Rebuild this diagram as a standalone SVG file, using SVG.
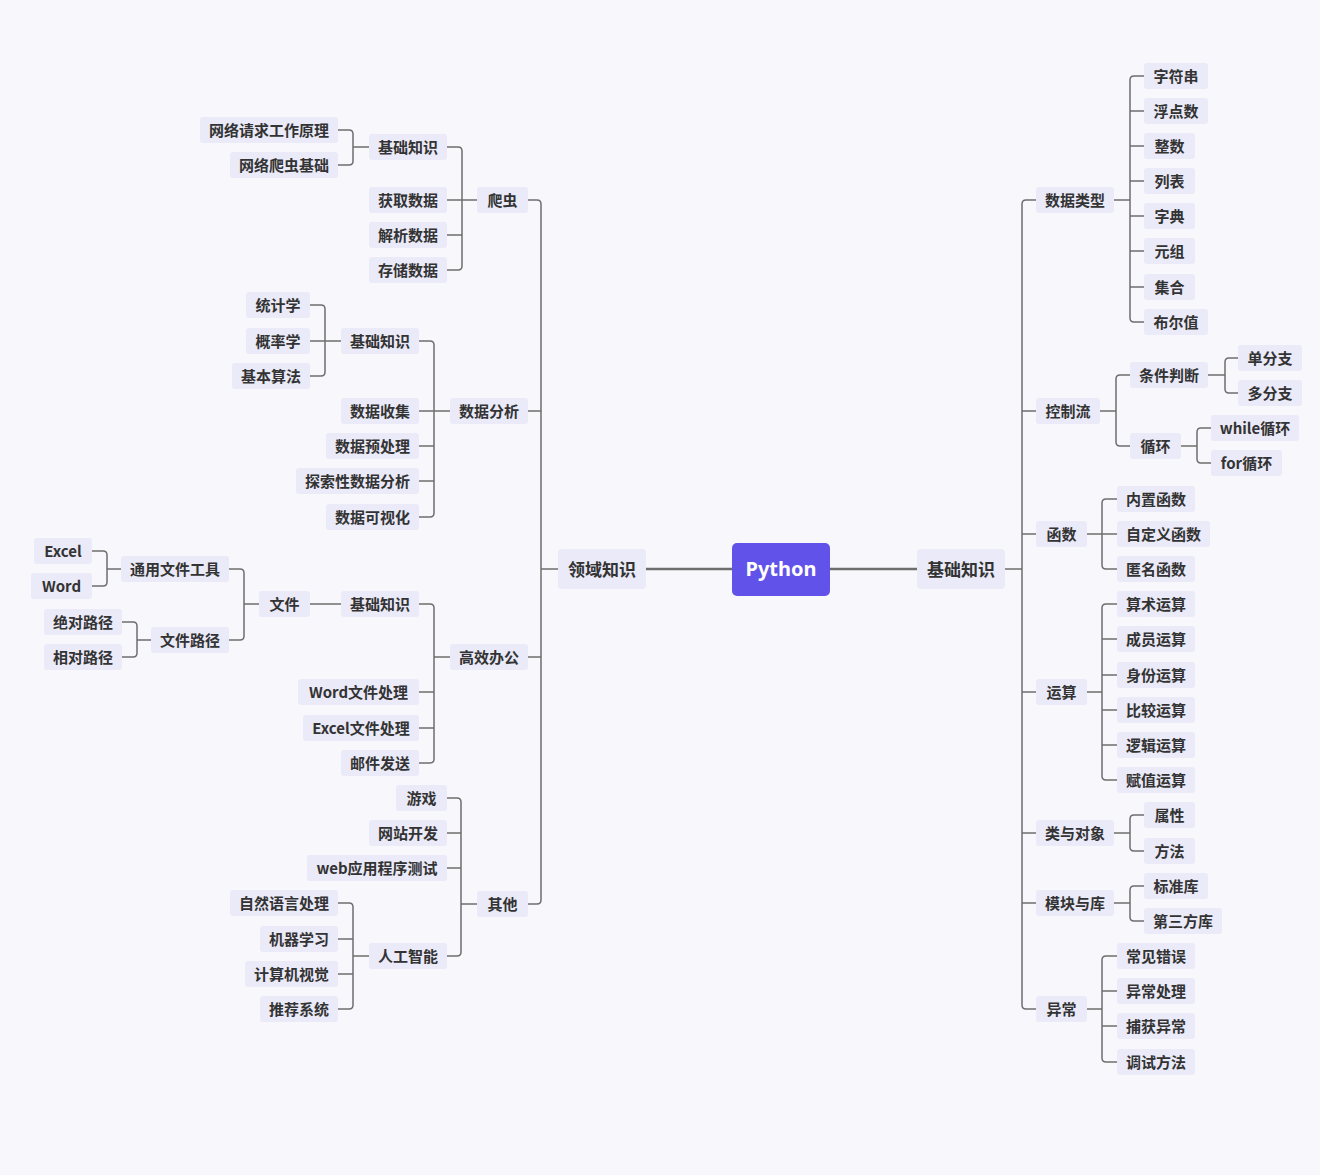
<svg xmlns="http://www.w3.org/2000/svg" width="1320" height="1175" viewBox="0 0 1320 1175">
<style>
.n rect{fill:#eaeaf8;rx:3px}
.n text{font-family:"Noto Sans CJK SC","Noto Sans",sans-serif;font-size:15px;font-weight:bold;fill:#333;text-anchor:middle;transform:translateY(1px)}
.l1 rect{fill:#eaeaf8;rx:4px}
.l1 text{font-family:"Noto Sans CJK SC","Noto Sans",sans-serif;font-size:17px;font-weight:bold;fill:#333;text-anchor:middle;transform:translateY(1px)}
.root rect{fill:#6153e9;rx:5px}
.root text{font-family:"Noto Sans","Noto Sans CJK SC",sans-serif;font-size:20px;font-weight:bold;fill:#fff;text-anchor:middle}
#connectors path{fill:none;stroke:#6e6e6e;stroke-width:1.5}
#connectors path.main{stroke-width:2.5}
</style>
<rect width="1320" height="1175" fill="#f8f8fc"/>
<g id="connectors">
<path class="main" d="M646,569 H732"/>
<path class="main" d="M830,569 H917"/>
<path d="M1005,569 H1022"/>
<path d="M1036,200 H1026 Q1022,200 1022,204 V1005 Q1022,1009 1026,1009 H1036"/>
<path d="M1022,411 H1036 M1022,534 H1036 M1022,692 H1036 M1022,833 H1036 M1022,903 H1036"/>
<path d="M1114,200 H1130"/>
<path d="M1144,76 H1134 Q1130,76 1130,80 V318 Q1130,322 1134,322 H1144"/>
<path d="M1130,111 H1144 M1130,146 H1144 M1130,181 H1144 M1130,216 H1144 M1130,251 H1144 M1130,287 H1144"/>
<path d="M1100,411 H1116"/>
<path d="M1130,375 H1120 Q1116,375 1116,379 V442 Q1116,446 1120,446 H1130"/>
<path d="M1208,375 H1225"/>
<path d="M1238,358 H1229 Q1225,358 1225,362 V389 Q1225,393 1229,393 H1238"/>
<path d="M1181,446 H1197"/>
<path d="M1211,428 H1201 Q1197,428 1197,432 V459 Q1197,463 1201,463 H1211"/>
<path d="M1087,534 H1102"/>
<path d="M1117,499 H1106 Q1102,499 1102,503 V565 Q1102,569 1106,569 H1117 M1102,534 H1117"/>
<path d="M1087,692 H1102"/>
<path d="M1117,604 H1106 Q1102,604 1102,608 V776 Q1102,780 1106,780 H1117 M1102,639 H1117 M1102,675 H1117 M1102,710 H1117 M1102,745 H1117"/>
<path d="M1114,833 H1130"/>
<path d="M1144,815 H1134 Q1130,815 1130,819 V847 Q1130,851 1134,851 H1144"/>
<path d="M1114,903 H1130"/>
<path d="M1144,886 H1134 Q1130,886 1130,890 V917 Q1130,921 1134,921 H1144"/>
<path d="M1087,1009 H1102"/>
<path d="M1117,956 H1106 Q1102,956 1102,960 V1058 Q1102,1062 1106,1062 H1117 M1102,991 H1117 M1102,1026 H1117"/>
<path d="M558,569 H541"/>
<path d="M528,200 H537 Q541,200 541,204 V900 Q541,904 537,904 H528 M541,411 H528 M541,657 H528"/>
<path d="M477,200 H462"/>
<path d="M447,147 H458 Q462,147 462,151 V266 Q462,270 458,270 H447 M462,200 H447 M462,235 H447"/>
<path d="M369,147 H353"/>
<path d="M338,130 H349 Q353,130 353,134 V161 Q353,165 349,165 H338"/>
<path d="M450,411 H434"/>
<path d="M419,341 H430 Q434,341 434,345 V513 Q434,517 430,517 H419 M434,411 H419 M434,446 H419 M434,481 H419"/>
<path d="M341,341 H325"/>
<path d="M310,305 H321 Q325,305 325,309 V372 Q325,376 321,376 H310 M325,341 H310"/>
<path d="M450,657 H434"/>
<path d="M419,604 H430 Q434,604 434,608 V759 Q434,763 430,763 H419 M434,692 H419 M434,728 H419"/>
<path d="M341,604 H310"/>
<path d="M259,604 H244"/>
<path d="M229,569 H240 Q244,569 244,573 V636 Q244,640 240,640 H229"/>
<path d="M121,569 H107"/>
<path d="M92,551 H103 Q107,551 107,555 V582 Q107,586 103,586 H92"/>
<path d="M151,640 H137"/>
<path d="M122,622 H133 Q137,622 137,626 V653 Q137,657 133,657 H122"/>
<path d="M477,904 H461"/>
<path d="M447,798 H457 Q461,798 461,802 V952 Q461,956 457,956 H447 M461,833 H447 M461,868 H447"/>
<path d="M369,956 H353"/>
<path d="M338,903 H349 Q353,903 353,907 V1005 Q353,1009 349,1009 H338 M353,939 H338 M353,974 H338"/>
</g>
<g id="root" class="root"><rect x="732" y="543" width="98" height="53"/><text x="781" y="576">Python</text></g>
<g id="basic" class="l1"><rect x="917" y="549" width="88" height="40"/><text x="961" y="575">基础知识</text></g>
<g id="domain" class="l1"><rect x="558" y="549" width="88" height="40"/><text x="602" y="575">领域知识</text></g>
<g id="r1" class="n"><rect x="1036" y="187" width="78" height="26"/><text x="1075" y="205">数据类型</text></g>
<g id="r1a" class="n"><rect x="1144" y="63" width="64" height="26"/><text x="1176" y="81">字符串</text></g>
<g id="r1b" class="n"><rect x="1144" y="98" width="64" height="26"/><text x="1176" y="116">浮点数</text></g>
<g id="r1c" class="n"><rect x="1144" y="133" width="51" height="26"/><text x="1169.5" y="151">整数</text></g>
<g id="r1d" class="n"><rect x="1144" y="168" width="51" height="26"/><text x="1169.5" y="186">列表</text></g>
<g id="r1e" class="n"><rect x="1144" y="203" width="51" height="26"/><text x="1169.5" y="221">字典</text></g>
<g id="r1f" class="n"><rect x="1144" y="238" width="51" height="26"/><text x="1169.5" y="256">元组</text></g>
<g id="r1g" class="n"><rect x="1144" y="274" width="51" height="26"/><text x="1169.5" y="292">集合</text></g>
<g id="r1h" class="n"><rect x="1144" y="309" width="64" height="26"/><text x="1176" y="327">布尔值</text></g>
<g id="r2" class="n"><rect x="1036" y="398" width="64" height="26"/><text x="1068" y="416">控制流</text></g>
<g id="r2a" class="n"><rect x="1130" y="362" width="78" height="26"/><text x="1169" y="380">条件判断</text></g>
<g id="r2a1" class="n"><rect x="1238" y="345" width="64" height="26"/><text x="1270" y="363">单分支</text></g>
<g id="r2a2" class="n"><rect x="1238" y="380" width="64" height="26"/><text x="1270" y="398">多分支</text></g>
<g id="r2b" class="n"><rect x="1130" y="433" width="51" height="26"/><text x="1155.5" y="451">循环</text></g>
<g id="r2b1" class="n"><rect x="1211" y="415" width="88" height="26"/><text x="1255" y="433">while循环</text></g>
<g id="r2b2" class="n"><rect x="1211" y="450" width="71" height="26"/><text x="1246.5" y="468">for循环</text></g>
<g id="r3" class="n"><rect x="1036" y="521" width="51" height="26"/><text x="1061.5" y="539">函数</text></g>
<g id="r3a" class="n"><rect x="1117" y="486" width="78" height="26"/><text x="1156" y="504">内置函数</text></g>
<g id="r3b" class="n"><rect x="1117" y="521" width="93" height="26"/><text x="1163.5" y="539">自定义函数</text></g>
<g id="r3c" class="n"><rect x="1117" y="556" width="78" height="26"/><text x="1156" y="574">匿名函数</text></g>
<g id="r4" class="n"><rect x="1036" y="679" width="51" height="26"/><text x="1061.5" y="697">运算</text></g>
<g id="r4a" class="n"><rect x="1117" y="591" width="78" height="26"/><text x="1156" y="609">算术运算</text></g>
<g id="r4b" class="n"><rect x="1117" y="626" width="78" height="26"/><text x="1156" y="644">成员运算</text></g>
<g id="r4c" class="n"><rect x="1117" y="662" width="78" height="26"/><text x="1156" y="680">身份运算</text></g>
<g id="r4d" class="n"><rect x="1117" y="697" width="78" height="26"/><text x="1156" y="715">比较运算</text></g>
<g id="r4e" class="n"><rect x="1117" y="732" width="78" height="26"/><text x="1156" y="750">逻辑运算</text></g>
<g id="r4f" class="n"><rect x="1117" y="767" width="78" height="26"/><text x="1156" y="785">赋值运算</text></g>
<g id="r5" class="n"><rect x="1036" y="820" width="78" height="26"/><text x="1075" y="838">类与对象</text></g>
<g id="r5a" class="n"><rect x="1144" y="802" width="51" height="26"/><text x="1169.5" y="820">属性</text></g>
<g id="r5b" class="n"><rect x="1144" y="838" width="51" height="26"/><text x="1169.5" y="856">方法</text></g>
<g id="r6" class="n"><rect x="1036" y="890" width="78" height="26"/><text x="1075" y="908">模块与库</text></g>
<g id="r6a" class="n"><rect x="1144" y="873" width="64" height="26"/><text x="1176" y="891">标准库</text></g>
<g id="r6b" class="n"><rect x="1144" y="908" width="78" height="26"/><text x="1183" y="926">第三方库</text></g>
<g id="r7" class="n"><rect x="1036" y="996" width="51" height="26"/><text x="1061.5" y="1014">异常</text></g>
<g id="r7a" class="n"><rect x="1117" y="943" width="78" height="26"/><text x="1156" y="961">常见错误</text></g>
<g id="r7b" class="n"><rect x="1117" y="978" width="78" height="26"/><text x="1156" y="996">异常处理</text></g>
<g id="r7c" class="n"><rect x="1117" y="1013" width="78" height="26"/><text x="1156" y="1031">捕获异常</text></g>
<g id="r7d" class="n"><rect x="1117" y="1049" width="78" height="26"/><text x="1156" y="1067">调试方法</text></g>
<g id="l1" class="n"><rect x="477" y="187" width="51" height="26"/><text x="502.5" y="205">爬虫</text></g>
<g id="l1a" class="n"><rect x="369" y="134" width="78" height="26"/><text x="408" y="152">基础知识</text></g>
<g id="l1a1" class="n"><rect x="200" y="117" width="138" height="26"/><text x="269" y="135">网络请求工作原理</text></g>
<g id="l1a2" class="n"><rect x="230" y="152" width="108" height="26"/><text x="284" y="170">网络爬虫基础</text></g>
<g id="l1b" class="n"><rect x="369" y="187" width="78" height="26"/><text x="408" y="205">获取数据</text></g>
<g id="l1c" class="n"><rect x="369" y="222" width="78" height="26"/><text x="408" y="240">解析数据</text></g>
<g id="l1d" class="n"><rect x="369" y="257" width="78" height="26"/><text x="408" y="275">存储数据</text></g>
<g id="l2" class="n"><rect x="450" y="398" width="78" height="26"/><text x="489" y="416">数据分析</text></g>
<g id="l2a" class="n"><rect x="341" y="328" width="78" height="26"/><text x="380" y="346">基础知识</text></g>
<g id="l2a1" class="n"><rect x="246" y="292" width="64" height="26"/><text x="278" y="310">统计学</text></g>
<g id="l2a2" class="n"><rect x="246" y="328" width="64" height="26"/><text x="278" y="346">概率学</text></g>
<g id="l2a3" class="n"><rect x="232" y="363" width="78" height="26"/><text x="271" y="381">基本算法</text></g>
<g id="l2b" class="n"><rect x="341" y="398" width="78" height="26"/><text x="380" y="416">数据收集</text></g>
<g id="l2c" class="n"><rect x="326" y="433" width="93" height="26"/><text x="372.5" y="451">数据预处理</text></g>
<g id="l2d" class="n"><rect x="296" y="468" width="123" height="26"/><text x="357.5" y="486">探索性数据分析</text></g>
<g id="l2e" class="n"><rect x="326" y="504" width="93" height="26"/><text x="372.5" y="522">数据可视化</text></g>
<g id="l3" class="n"><rect x="450" y="644" width="78" height="26"/><text x="489" y="662">高效办公</text></g>
<g id="l3a" class="n"><rect x="341" y="591" width="78" height="26"/><text x="380" y="609">基础知识</text></g>
<g id="l3a1" class="n"><rect x="259" y="591" width="51" height="26"/><text x="284.5" y="609">文件</text></g>
<g id="l3a1a" class="n"><rect x="121" y="556" width="108" height="26"/><text x="175" y="574">通用文件工具</text></g>
<g id="l3a1a1" class="n"><rect x="34" y="538" width="58" height="26"/><text x="63" y="556">Excel</text></g>
<g id="l3a1a2" class="n"><rect x="31" y="573" width="61" height="26"/><text x="61.5" y="591">Word</text></g>
<g id="l3a1b" class="n"><rect x="151" y="627" width="78" height="26"/><text x="190" y="645">文件路径</text></g>
<g id="l3a1b1" class="n"><rect x="44" y="609" width="78" height="26"/><text x="83" y="627">绝对路径</text></g>
<g id="l3a1b2" class="n"><rect x="44" y="644" width="78" height="26"/><text x="83" y="662">相对路径</text></g>
<g id="l3b" class="n"><rect x="298" y="679" width="121" height="26"/><text x="358.5" y="697">Word文件处理</text></g>
<g id="l3c" class="n"><rect x="303" y="715" width="116" height="26"/><text x="361" y="733">Excel文件处理</text></g>
<g id="l3d" class="n"><rect x="341" y="750" width="78" height="26"/><text x="380" y="768">邮件发送</text></g>
<g id="l4" class="n"><rect x="477" y="891" width="51" height="26"/><text x="502.5" y="909">其他</text></g>
<g id="l4a" class="n"><rect x="396" y="785" width="51" height="26"/><text x="421.5" y="803">游戏</text></g>
<g id="l4b" class="n"><rect x="369" y="820" width="78" height="26"/><text x="408" y="838">网站开发</text></g>
<g id="l4c" class="n"><rect x="307" y="855" width="140" height="26"/><text x="377" y="873">web应用程序测试</text></g>
<g id="l4d" class="n"><rect x="369" y="943" width="78" height="26"/><text x="408" y="961">人工智能</text></g>
<g id="l4d1" class="n"><rect x="230" y="890" width="108" height="26"/><text x="284" y="908">自然语言处理</text></g>
<g id="l4d2" class="n"><rect x="260" y="926" width="78" height="26"/><text x="299" y="944">机器学习</text></g>
<g id="l4d3" class="n"><rect x="245" y="961" width="93" height="26"/><text x="291.5" y="979">计算机视觉</text></g>
<g id="l4d4" class="n"><rect x="260" y="996" width="78" height="26"/><text x="299" y="1014">推荐系统</text></g>
</svg>
